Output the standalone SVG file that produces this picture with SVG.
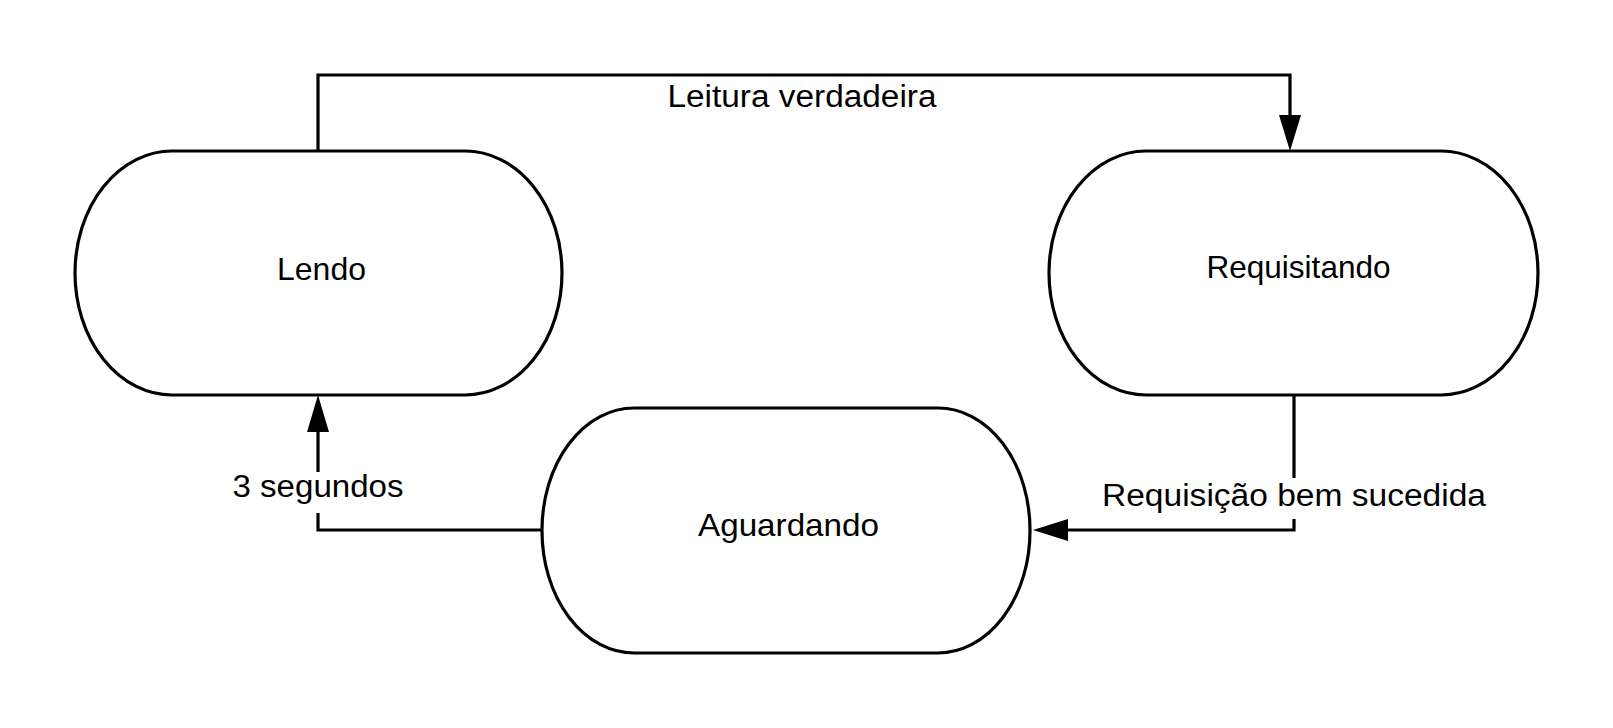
<svg xmlns="http://www.w3.org/2000/svg" width="1613" height="728" viewBox="0 0 1613 728">
  <style>
    .node { fill: #ffffff; stroke: #000000; stroke-width: 3.2; }
    .edge { fill: none; stroke: #000000; stroke-width: 3.2; }
    .txt { font-family: "Liberation Sans", Arial, sans-serif; font-size: 32px; fill: #000000; text-anchor: middle; }
    .lbl { font-family: "Liberation Sans", Arial, sans-serif; font-size: 31px; fill: #000000; text-anchor: middle; }
    .head { fill: #000000; stroke: none; }
  </style>
  <rect x="0" y="0" width="1613" height="728" fill="#ffffff"/>
  <g id="connectors">
    <g id="edge-lendo-requisitando">
      <path class="edge" d="M318,151 V75 H1290 V117"/>
      <polygon class="head" points="1290,151 1279,115 1301,115"/>
      <text class="lbl" x="802" y="107" textLength="269" lengthAdjust="spacingAndGlyphs">Leitura verdadeira</text>
    </g>
    <g id="edge-requisitando-aguardando">
      <path class="edge" d="M1294,395 V530 H1065"/>
      <polygon class="head" points="1033,530 1068,519 1068,541"/>
      <rect x="1098" y="478" width="392" height="41" fill="#ffffff"/>
      <text class="lbl" x="1294" y="506" textLength="384" lengthAdjust="spacingAndGlyphs">Requisição bem sucedida</text>
    </g>
    <g id="edge-aguardando-lendo">
      <path class="edge" d="M542,530 H318 V430"/>
      <polygon class="head" points="318,395 307,432 329,432"/>
      <rect x="228" y="472" width="180" height="41" fill="#ffffff"/>
      <text class="lbl" x="318" y="497" textLength="171" lengthAdjust="spacingAndGlyphs">3 segundos</text>
    </g>
  </g>
  <g id="node-lendo">
    <rect class="node" x="75" y="151" width="487" height="244" rx="97" ry="122"/>
    <text class="txt" x="321.5" y="280" textLength="89" lengthAdjust="spacingAndGlyphs">Lendo</text>
  </g>
  <g id="node-requisitando">
    <rect class="node" x="1049" y="151" width="489" height="244" rx="97" ry="122"/>
    <text class="txt" x="1298.5" y="278" textLength="184" lengthAdjust="spacingAndGlyphs">Requisitando</text>
  </g>
  <g id="node-aguardando">
    <rect class="node" x="542" y="408" width="488" height="245" rx="92" ry="122"/>
    <text class="txt" x="788.5" y="536" textLength="181" lengthAdjust="spacingAndGlyphs">Aguardando</text>
  </g>
</svg>
